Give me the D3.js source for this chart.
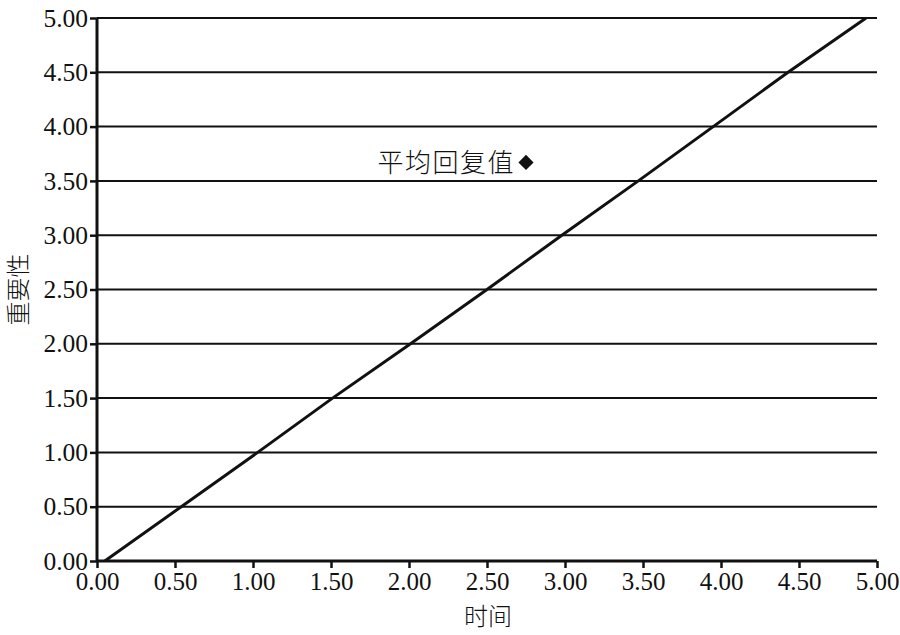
<!DOCTYPE html>
<html>
<head>
<meta charset="utf-8">
<script src="https://cdn.jsdelivr.net/npm/d3@7"></script>
<style>
  html, body { margin: 0; padding: 0; background: #fff; }
  svg { display: block; }
</style>
</head>
<body>
<svg id="chart" width="900" height="635"></svg>
<script>
// ---- data ----
const xTicks = [0, 0.5, 1, 1.5, 2, 2.5, 3, 3.5, 4, 4.5, 5];
const yTicks = [0, 0.5, 1, 1.5, 2, 2.5, 3, 3.5, 4, 4.5, 5];
const lineX = [0.05, 0.54, 1.03, 1.51, 2.01, 2.50, 2.98, 3.47, 3.95, 4.43, 4.93];
const lineY = [0.00, 0.50, 1.00, 1.50, 2.00, 2.50, 3.00, 3.50, 4.00, 4.50, 5.00];
const pointX = [2.75];
const pointY = [3.67];
const pointLabels = ["平均回复值"];
const xTitle = "时间";
const yTitle = "重要性";

// ---- layout ----
const svg = d3.select("#chart");
const mLeft = 97, mRight = 877, mTop = 18, mBottom = 561;
const x = d3.scaleLinear().domain([0, 5]).range([mLeft, mRight]);
const y = d3.scaleLinear().domain([0, 5]).range([mBottom, mTop]);
const numFont = "'Liberation Serif', 'Times New Roman', serif";
const cjkFont = "'Noto Sans CJK SC', sans-serif";

// gridlines
svg.append("g").selectAll("line")
  .data(yTicks.filter(d => d > 0))
  .join("line")
  .attr("x1", x(0)).attr("x2", x(5))
  .attr("y1", d => y(d)).attr("y2", d => y(d))
  .attr("stroke", "#111").attr("stroke-width", 2);

// y axis
const yAxis = svg.append("g")
  .attr("transform", `translate(${mLeft},0)`)
  .call(d3.axisLeft(y).tickValues(yTicks).tickFormat(d3.format(".2f")).tickSize(7).tickPadding(2));
yAxis.select(".domain").attr("stroke", "#111").attr("stroke-width", 3).attr("d", `M0,${mTop}V${mBottom}`);
yAxis.selectAll(".tick line").attr("stroke", "#111").attr("stroke-width", 2.5);
yAxis.selectAll("text").attr("font-family", numFont).attr("font-size", 25.5).attr("fill", "#111");

// x axis
const xAxis = svg.append("g")
  .attr("transform", `translate(0,${mBottom})`)
  .call(d3.axisBottom(x).tickValues(xTicks).tickFormat(d3.format(".2f")).tickSize(7).tickPadding(4));
xAxis.select(".domain").attr("stroke", "#111").attr("stroke-width", 3).attr("d", `M${mLeft},0H${mRight}`);
xAxis.selectAll(".tick line").attr("stroke", "#111").attr("stroke-width", 2.5);
xAxis.selectAll("text").attr("font-family", numFont).attr("font-size", 25).attr("fill", "#111");

// line
const pts = lineX.map((v, i) => [v, lineY[i]]);
svg.append("path")
  .datum(pts)
  .attr("fill", "none")
  .attr("stroke", "#111")
  .attr("stroke-width", 3)
  .attr("d", d3.line().x(d => x(d[0])).y(d => y(d[1])));

// point
const pdata = pointX.map((v, i) => ({x: v, y: pointY[i], label: pointLabels[i]}));
svg.append("g").selectAll("path")
  .data(pdata)
  .join("path")
  .attr("transform", d => `translate(${x(d.x)},${y(d.y)}) rotate(45)`)
  .attr("d", d3.symbol().type(d3.symbolSquare).size(115))
  .attr("fill", "#111");
svg.append("g").selectAll("text")
  .data(pdata)
  .join("text")
  .attr("x", d => x(d.x) - 11)
  .attr("y", d => y(d.y))
  .attr("dy", "0.36em")
  .attr("text-anchor", "end")
  .attr("font-family", cjkFont)
  .attr("font-weight", 300)
  .attr("font-size", 26)
  .attr("letter-spacing", 1.5)
  .attr("fill", "#111")
  .text(d => d.label);

// axis titles
svg.append("text")
  .attr("x", (mLeft + mRight) / 2 + 1)
  .attr("y", 616)
  .attr("dy", "0.36em")
  .attr("text-anchor", "middle")
  .attr("font-family", cjkFont)
  .attr("font-weight", 300)
  .attr("font-size", 24)
  .attr("fill", "#111")
  .text(xTitle);
svg.append("text")
  .attr("transform", `translate(18,${(mTop + mBottom) / 2}) rotate(-90)`)
  .attr("dy", "0.36em")
  .attr("text-anchor", "middle")
  .attr("font-family", cjkFont)
  .attr("font-weight", 300)
  .attr("font-size", 24)
  .attr("fill", "#111")
  .text(yTitle);
</script>
</body>
</html>
